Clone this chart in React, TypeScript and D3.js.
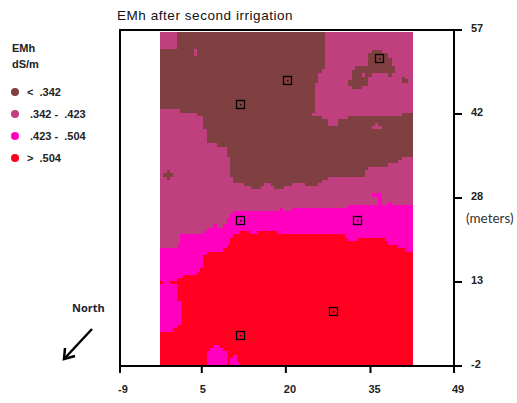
import React from "react";
import * as d3 from "d3";

const title = "EMh after second irrigation";
const xTickMeters = [-9, 5.2, 19.8, 34.5, 49];
const xTickLabels = ["-9", "5", "20", "35", "49"];
const yTickMeters = [-2, 12.75, 27.5, 42.25, 57];
const yTickLabels = ["-2", "13", "28", "42", "57"];
const legendLabels = ["<  .342", " .342 -  .423", " .423 -  .504", ">  .504"];
const classColors = ["#803f40", "#c03f7f", "#ff00bf", "#ff0020"];

// raster grid cells (76 columns × 100 rows, measured from the top-left of the survey field)
const brownBottom: [number, number][] = [[0,23.3],[6,24.3],[11,25.3],[13,29.3],[14.2,33.5],[17,34.5],[20,37.5],[21,43.5],[22,45.3],[25.2,46.3],[27.2,47.3],[30.2,46.3],[31.2,45.3],[33.2,46.3],[34.2,47.3],[37.2,46.3],[39.6,45.3],[43.6,46.3],[47.5,45.3],[48.5,44.5],[50.5,43.5],[61.5,41.5],[62.5,40.5],[68.5,39.5],[71.5,38.5],[72.5,37.5],[76,37.5]];
const pinkBottom: [number, number][] = [[0,65],[5,64],[6,60.8],[13,59.8],[14,58.8],[16,57.8],[17,58.8],[19,57.8],[20,55.8],[21,54.8],[22,53.8],[36,53],[37,53.8],[39.5,53],[56.5,52],[65.4,48.4],[66.6,52],[68.5,51],[69.5,52],[76,52]];
const magentaBottom: [number, number][] = [[0,90],[4,89],[5,88],[6.2,74],[7,73],[11,72],[12,71],[13,67],[14,66],[19,65],[20,64],[21,61.8],[22,60.8],[24,59.8],[27,60.8],[29.2,59.8],[35,60.8],[55.5,61.8],[56.5,62.8],[59.5,61.8],[67.5,62.8],[68.5,64],[71.5,65],[73.5,66],[76,66]];

const pinkUpperRight: [number, number][] = [[49.5,0],[49.5,11.3],[48.5,11.3],[48.5,12.5],[47.5,12.5],[47.5,15.5],[46.5,15.5],[46.5,24.5],[45.5,24.5],[45.5,25.3],[48.5,25.3],[48.5,26.3],[50.5,26.3],[50.5,28.3],[53.5,28.3],[53.5,26.3],[56.5,26.3],[56.5,25.3],[72.5,25.3],[72.5,24.5],[76,24.5],[76,0]];
const brownBlob: [number, number][] = [[63.5,5.5],[66.5,5.5],[66.5,6.3],[68.5,6.3],[68.5,8],[69.5,8],[69.5,10.3],[70.5,10.3],[70.5,12.3],[69.5,12.3],[69.5,13.5],[68.5,13.5],[68.5,12.5],[63.5,12.5],[63.5,13.5],[62.5,13.5],[62.5,16.3],[60.5,16.3],[60.5,17.3],[57.5,17.3],[57.5,16.3],[56.5,16.3],[56.5,14.5],[57.5,14.5],[57.5,11.5],[58.5,11.5],[58.5,10.3],[62.5,10.3],[62.5,6.5],[63.5,6.5]];
const pinkBlobDot: [number, number][] = [[60.5,12.5],[61.5,12.5],[61.5,13.5],[60.5,13.5]];
const brownNick: [number, number][] = [[72.5,13.5],[73.5,13.5],[73.5,14.3],[74.5,14.3],[74.5,15.3],[72.5,15.3]];
const pinkTriangle: [number, number][] = [[63.5,29.3],[63.5,28.3],[64.5,28.3],[64.5,27.3],[65.5,27.3],[65.5,28.3],[66.5,28.3],[66.5,29.3]];
const pinkCorner: [number, number][] = [[0,0],[5,0],[5,5.3],[0,5.3]];
const pinkSpeck: [number, number][] = [[10.2,5.3],[11.2,5.3],[11.2,7.3],[10.2,7.3]];
const brownPlus: [number, number][] = [[2,41.5],[3,41.5],[3,42.5],[4,42.5],[4,43.5],[3,43.5],[3,44.5],[2,44.5],[2,43.5],[1,43.5],[1,42.5],[2,42.5]];
const redLedge: [number, number][] = [[5,74],[6.2,74],[6.2,80.8],[5.2,80.8],[5.2,77.8],[5,77.8]];
const redSpeckA: [number, number][] = [[0,74.8],[1,74.8],[1,75.8],[0,75.8]];
const redSpeckB: [number, number][] = [[3,74.8],[5,74.8],[5,75.8],[3,75.8]];
const magentaBumpTop: [number, number][] = [[63.6,48.4],[65.4,48.4],[65.4,49.6],[63.6,49.6]];
const magentaMoundA: [number, number][] = [[14,100],[14,95.8],[15,95.8],[15,94.8],[16,94.8],[16,94],[18,94],[18,95],[19,95],[19,95.8],[20,95.8],[20,100]];
const magentaMoundB: [number, number][] = [[21,100],[21,98],[22,98],[22,97],[23,97],[23,99],[24,99],[24,100]];

// sampling points, metres
const samplePointsX = [11.92, 20.0, 35.97, 11.92, 32.07, 27.98, 11.92];
const samplePointsY = [44.09, 48.2, 52.08, 23.72, 23.72, 7.66, 3.53];

export default function App() {
  const x = d3.scaleLinear().domain([-9, 49]).range([120, 454]);
  const y = d3.scaleLinear().domain([-2, 57]).range([366, 30]);
  const col = d3.scaleLinear().domain([0, 76]).range([x(-2.05), x(41.93)]);
  const row = d3.scaleLinear().domain([0, 100]).range([y(56.7), y(-1.82)]);

  const area = d3.area<[number, number]>()
    .x((d) => col(d[0]))
    .y0(row(0))
    .y1((d) => row(d[1]))
    .curve(d3.curveStepAfter);
  const poly = (pts: [number, number][]) =>
    (d3.line<[number, number]>().x((d) => col(d[0])).y((d) => row(d[1]))(pts) ?? "") + "Z";

  const tickEndX = 462;
  const tickEndY = 373;
  const labelFont = "'Liberation Sans', Arial, sans-serif";

  const [brown, pink, magenta, red] = classColors;
  const overlays: [[number, number][], string][] = [
    [pinkUpperRight, pink], [brownBlob, brown], [pinkBlobDot, pink], [brownNick, brown],
    [pinkTriangle, pink], [pinkCorner, pink], [pinkSpeck, pink], [brownPlus, brown],
    [redLedge, red], [redSpeckA, red], [redSpeckB, red], [magentaBumpTop, magenta], [magentaMoundA, magenta], [magentaMoundB, magenta],
  ];

  return (
    <svg width={517} height={403} style={{ position: "absolute", left: 0, top: 0, background: "#fff" }}>
      <text x={117} y={20} fontFamily={labelFont} fontSize={13.5} letterSpacing={0.55} fill="#111">{title}</text>

      <g shapeRendering="crispEdges">
        <rect x={col(0)} y={row(0)} width={col(76) - col(0)} height={row(100) - row(0)} fill={red} />
        <path d={area(magentaBottom) ?? ""} fill={magenta} />
        <path d={area(pinkBottom) ?? ""} fill={pink} />
        <path d={area(brownBottom) ?? ""} fill={brown} />
        {overlays.map(([pts, c], i) => <path key={i} d={poly(pts)} fill={c} />)}
      </g>

      {samplePointsX.map((m, i) => (
        <g key={i}>
          <rect x={Math.round(x(m)) - 3.5} y={Math.round(y(samplePointsY[i])) - 3.5} width={8} height={8} fill="none" stroke="#000" strokeWidth={1.3} />
          <rect x={Math.round(x(m))} y={Math.round(y(samplePointsY[i]))} width={1.5} height={1.5} fill="#111" />
        </g>
      ))}

      <g stroke="#000" strokeWidth={2} fill="none">
        <line x1={x(-9)} x2={x(-9)} y1={y(57) - 1} y2={tickEndY} />
        <line x1={x(49)} x2={x(49)} y1={y(57) - 1} y2={tickEndY} />
        <line x1={x(-9) - 1} x2={tickEndX} y1={y(57)} y2={y(57)} />
        <line x1={x(-9) - 1} x2={tickEndX} y1={y(-2)} y2={y(-2)} />
        {xTickMeters.map((m) => <line key={m} x1={x(m)} x2={x(m)} y1={y(-2)} y2={tickEndY} />)}
        {yTickMeters.map((m) => <line key={m} x1={x(49)} x2={tickEndX} y1={y(m)} y2={y(m)} />)}
      </g>

      <g fontFamily={labelFont} fontSize={11} fontWeight={700} fill="#222">
        {xTickMeters.map((m, i) => <text key={m} x={x(m) - 2} y={393}>{xTickLabels[i]}</text>)}
        {yTickMeters.map((m, i) => <text key={m} x={471} y={y(m) + 1.5}>{yTickLabels[i]}</text>)}
      </g>
      <text x={466} y={223} fontFamily="Lato, sans-serif" fontSize={13.5} fill="#333">(meters)</text>

      <g fontFamily={labelFont} fontSize={11} fill="#222">
        <text x={12} y={52} fontWeight={700}>EMh</text>
        <text x={12} y={68} fontWeight={700}>dS/m</text>
        {legendLabels.map((t, i) => (
          <g key={t}>
            <circle cx={15} cy={92 + 22 * i} r={4} fill={classColors[i]} />
            <text x={27} y={96 + 22 * i} fontWeight={700} style={{ whiteSpace: "pre" }}>{t}</text>
          </g>
        ))}
      </g>

      <text x={72} y={312} fontFamily="'Open Sans', sans-serif" fontSize={11} fontWeight={700} fill="#223">North</text>
      <g stroke="#000" strokeWidth={2.5} fill="none">
        <line x1={92} y1={329} x2={65} y2={358} />
        <path d="M65,348 L64,359 L75,356" />
      </g>
    </svg>
  );
}
